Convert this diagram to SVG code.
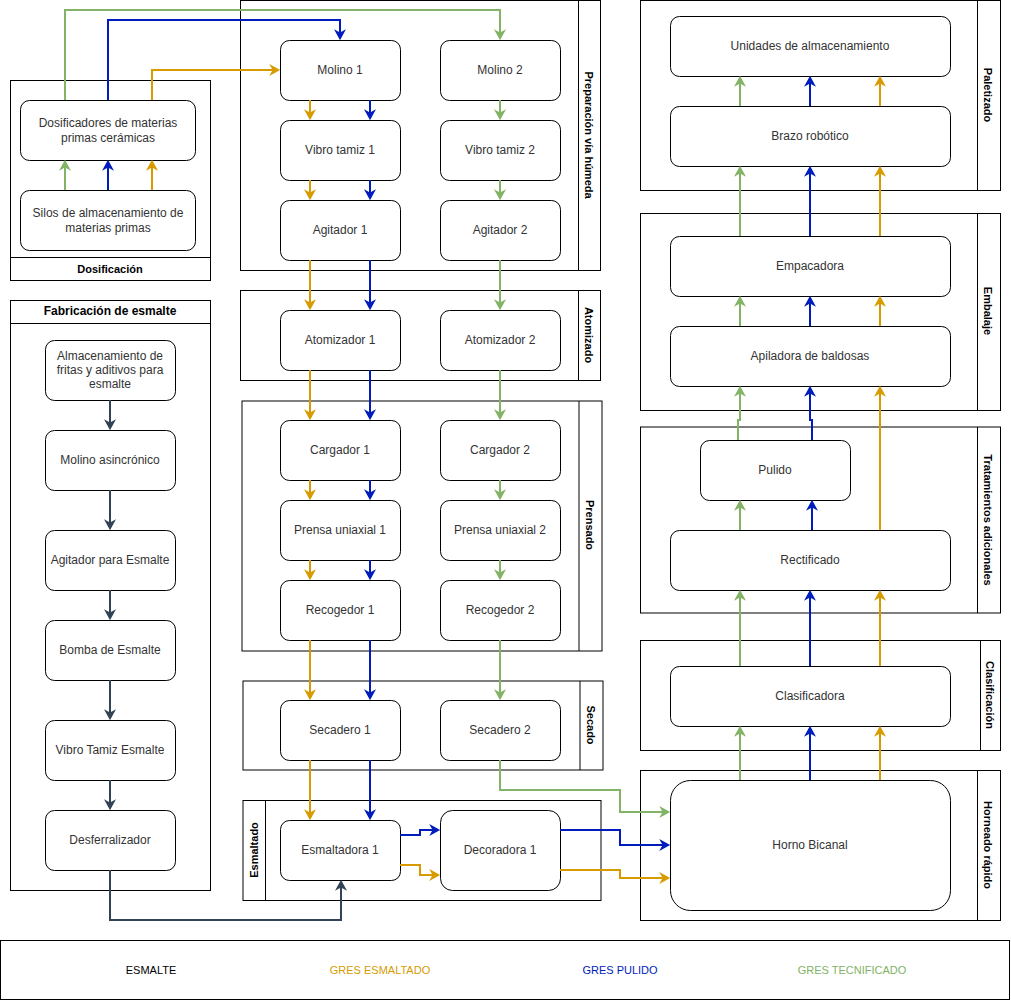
<svg xmlns="http://www.w3.org/2000/svg" width="1011" height="1001" viewBox="0 0 1011 1001">
<style>
.cont{fill:#fff;stroke:#000;stroke-width:1}
.node{fill:#fff;stroke:#000;stroke-width:1}
.t{font-family:"Liberation Sans",Arial,sans-serif;font-size:12px;fill:#333;text-anchor:middle;dominant-baseline:central}
.h{font-family:"Liberation Sans",Arial,sans-serif;font-size:11px;font-weight:bold;fill:#000;text-anchor:middle;dominant-baseline:central}
.lg{font-family:"Liberation Sans",Arial,sans-serif;font-size:11px;text-anchor:middle;dominant-baseline:central}
.c{fill:none;stroke-width:2}
.o{stroke:#d79b00;marker-end:url(#ao)}
.b{stroke:#001DBC;marker-end:url(#ab)}
.g{stroke:#82b366;marker-end:url(#ag)}
.d{stroke:#314354;marker-end:url(#ad)}
</style>
<defs>
<marker id="ao" markerUnits="userSpaceOnUse" markerWidth="12" markerHeight="12" viewBox="0 0 10 11" refX="8" refY="5.5" orient="auto"><path d="M0,0 L10,5.5 L0,11 L3,5.5 Z" fill="#d79b00"/></marker>
<marker id="ab" markerUnits="userSpaceOnUse" markerWidth="12" markerHeight="12" viewBox="0 0 10 11" refX="8" refY="5.5" orient="auto"><path d="M0,0 L10,5.5 L0,11 L3,5.5 Z" fill="#001DBC"/></marker>
<marker id="ag" markerUnits="userSpaceOnUse" markerWidth="12" markerHeight="12" viewBox="0 0 10 11" refX="8" refY="5.5" orient="auto"><path d="M0,0 L10,5.5 L0,11 L3,5.5 Z" fill="#82b366"/></marker>
<marker id="ad" markerUnits="userSpaceOnUse" markerWidth="12" markerHeight="12" viewBox="0 0 10 11" refX="8" refY="5.5" orient="auto"><path d="M0,0 L10,5.5 L0,11 L3,5.5 Z" fill="#314354"/></marker>
</defs>
<rect width="1011" height="1001" fill="#fff"/>

<!-- Containers -->
<g id="c-dosificacion"><rect class="cont" x="10.5" y="80.5" width="200" height="200"/><line x1="10.5" y1="257.5" x2="210.5" y2="257.5" stroke="#000"/><text class="h" x="110" y="269">Dosificación</text></g>
<g id="c-fabricacion"><rect class="cont" x="10.5" y="300.5" width="200" height="590"/><line x1="10.5" y1="323.5" x2="210.5" y2="323.5" stroke="#000"/><text class="h" x="110" y="311" style="font-size:12px">Fabricación de esmalte</text></g>
<g id="c-preparacion"><rect class="cont" x="240.5" y="0.5" width="360" height="270"/><line x1="578.5" y1="0.5" x2="578.5" y2="270.5" stroke="#000"/><text class="h" transform="translate(589,135) rotate(90)">Preparación vía húmeda</text></g>
<g id="c-atomizado"><rect class="cont" x="240.5" y="290.5" width="360" height="90"/><line x1="578.5" y1="290.5" x2="578.5" y2="380.5" stroke="#000"/><text class="h" transform="translate(589,335) rotate(90)">Atomizado</text></g>
<g id="c-prensado"><rect class="cont" x="242" y="401" width="360" height="250"/><line x1="579" y1="401" x2="579" y2="651" stroke="#000"/><text class="h" transform="translate(590,525) rotate(90)">Prensado</text></g>
<g id="c-secado"><rect class="cont" x="243" y="681" width="360" height="89"/><line x1="580" y1="681" x2="580" y2="770" stroke="#000"/><text class="h" transform="translate(591,725) rotate(90)">Secado</text></g>
<g id="c-esmaltado"><rect class="cont" x="243" y="800.5" width="358" height="100"/><line x1="265.5" y1="800.5" x2="265.5" y2="900.5" stroke="#000"/><text class="h" transform="translate(254,850) rotate(-90)">Esmaltado</text></g>
<g id="c-paletizado"><rect class="cont" x="640.5" y="0.5" width="360" height="190"/><line x1="977.5" y1="0.5" x2="977.5" y2="190.5" stroke="#000"/><text class="h" transform="translate(988,95) rotate(90)">Paletizado</text></g>
<g id="c-embalaje"><rect class="cont" x="640.5" y="213.5" width="360" height="197"/><line x1="977.5" y1="213.5" x2="977.5" y2="410.5" stroke="#000"/><text class="h" transform="translate(988,311) rotate(90)">Embalaje</text></g>
<g id="c-tratamientos"><rect class="cont" x="640.5" y="427" width="360" height="186"/><line x1="977.5" y1="427" x2="977.5" y2="613" stroke="#000"/><text class="h" transform="translate(988,520) rotate(90)">Tratamientos adicionales</text></g>
<g id="c-clasificacion"><rect class="cont" x="640.5" y="640.5" width="360" height="110"/><line x1="980.5" y1="640.5" x2="980.5" y2="750.5" stroke="#000"/><text class="h" transform="translate(990,695) rotate(90)">Clasificación</text></g>
<g id="c-horneado"><rect class="cont" x="640.5" y="770.5" width="360" height="150"/><line x1="977.5" y1="770.5" x2="977.5" y2="920.5" stroke="#000"/><text class="h" transform="translate(988,845) rotate(90)">Horneado rápido</text></g>

<!-- Nodes -->
<g id="n-dosificadores"><rect class="node" x="20.5" y="100.5" width="175" height="60" rx="9"/><text class="t" x="108" y="123">Dosificadores de materias</text><text class="t" x="108" y="138">primas cerámicas</text></g>
<g id="n-silos"><rect class="node" x="20.5" y="190.5" width="175" height="60" rx="9"/><text class="t" x="108" y="213">Silos de almacenamiento de</text><text class="t" x="108" y="228">materias primas</text></g>

<g id="n-almacen"><rect class="node" x="45.5" y="340.5" width="130" height="60" rx="9"/><text class="t" x="110" y="356">Almacenamiento de</text><text class="t" x="110" y="370">fritas y aditivos para</text><text class="t" x="110" y="384">esmalte</text></g>
<g id="n-molinoasinc"><rect class="node" x="45.5" y="430.5" width="130" height="60" rx="9"/><text class="t" x="110" y="460">Molino asincrónico</text></g>
<g id="n-agitadoresm"><rect class="node" x="45.5" y="530.5" width="130" height="60" rx="9"/><text class="t" x="110" y="560">Agitador para Esmalte</text></g>
<g id="n-bomba"><rect class="node" x="45.5" y="620.5" width="130" height="60" rx="9"/><text class="t" x="110" y="650">Bomba de Esmalte</text></g>
<g id="n-vibroesm"><rect class="node" x="45.5" y="720.5" width="130" height="60" rx="9"/><text class="t" x="110" y="750">Vibro Tamiz Esmalte</text></g>
<g id="n-desferr"><rect class="node" x="45.5" y="810.5" width="130" height="60" rx="9"/><text class="t" x="110" y="840">Desferralizador</text></g>

<g id="n-molino1"><rect class="node" x="280.5" y="40.5" width="120" height="60" rx="9"/><text class="t" x="340" y="70">Molino 1</text></g>
<g id="n-molino2"><rect class="node" x="440.5" y="40.5" width="120" height="60" rx="9"/><text class="t" x="500" y="70">Molino 2</text></g>
<g id="n-vibro1"><rect class="node" x="280.5" y="120.5" width="120" height="60" rx="9"/><text class="t" x="340" y="150">Vibro tamiz 1</text></g>
<g id="n-vibro2"><rect class="node" x="440.5" y="120.5" width="120" height="60" rx="9"/><text class="t" x="500" y="150">Vibro tamiz 2</text></g>
<g id="n-agitador1"><rect class="node" x="280.5" y="200.5" width="120" height="60" rx="9"/><text class="t" x="340" y="230">Agitador 1</text></g>
<g id="n-agitador2"><rect class="node" x="440.5" y="200.5" width="120" height="60" rx="9"/><text class="t" x="500" y="230">Agitador 2</text></g>
<g id="n-atom1"><rect class="node" x="280.5" y="310.5" width="120" height="60" rx="9"/><text class="t" x="340" y="340">Atomizador 1</text></g>
<g id="n-atom2"><rect class="node" x="440.5" y="310.5" width="120" height="60" rx="9"/><text class="t" x="500" y="340">Atomizador 2</text></g>
<g id="n-carg1"><rect class="node" x="280.5" y="420.5" width="120" height="60" rx="9"/><text class="t" x="340" y="450">Cargador 1</text></g>
<g id="n-carg2"><rect class="node" x="440.5" y="420.5" width="120" height="60" rx="9"/><text class="t" x="500" y="450">Cargador 2</text></g>
<g id="n-prensa1"><rect class="node" x="280.5" y="500.5" width="120" height="60" rx="9"/><text class="t" x="340" y="530">Prensa uniaxial 1</text></g>
<g id="n-prensa2"><rect class="node" x="440.5" y="500.5" width="120" height="60" rx="9"/><text class="t" x="500" y="530">Prensa uniaxial 2</text></g>
<g id="n-recog1"><rect class="node" x="280.5" y="580.5" width="120" height="60" rx="9"/><text class="t" x="340" y="610">Recogedor 1</text></g>
<g id="n-recog2"><rect class="node" x="440.5" y="580.5" width="120" height="60" rx="9"/><text class="t" x="500" y="610">Recogedor 2</text></g>
<g id="n-sec1"><rect class="node" x="280.5" y="700.5" width="120" height="60" rx="9"/><text class="t" x="340" y="730">Secadero 1</text></g>
<g id="n-sec2"><rect class="node" x="440.5" y="700.5" width="120" height="60" rx="9"/><text class="t" x="500" y="730">Secadero 2</text></g>
<g id="n-esmaltadora"><rect class="node" x="280.5" y="820.5" width="120" height="60" rx="9"/><text class="t" x="340" y="850">Esmaltadora 1</text></g>
<g id="n-decoradora"><rect class="node" x="440.5" y="810.5" width="120" height="80" rx="12"/><text class="t" x="500" y="850">Decoradora 1</text></g>

<g id="n-unidades"><rect class="node" x="670.5" y="16.5" width="280" height="60" rx="9"/><text class="t" x="810" y="46">Unidades de almacenamiento</text></g>
<g id="n-brazo"><rect class="node" x="670.5" y="106.5" width="280" height="60" rx="9"/><text class="t" x="810" y="136">Brazo robótico</text></g>
<g id="n-empacadora"><rect class="node" x="670.5" y="236.5" width="280" height="60" rx="9"/><text class="t" x="810" y="266">Empacadora</text></g>
<g id="n-apiladora"><rect class="node" x="670.5" y="326.5" width="280" height="60" rx="9"/><text class="t" x="810" y="356">Apiladora de baldosas</text></g>
<g id="n-pulido"><rect class="node" x="700.5" y="440.5" width="150" height="60" rx="9"/><text class="t" x="775" y="470">Pulido</text></g>
<g id="n-rectificado"><rect class="node" x="670.5" y="530.5" width="280" height="60" rx="9"/><text class="t" x="810" y="560">Rectificado</text></g>
<g id="n-clasificadora"><rect class="node" x="670.5" y="666.5" width="280" height="60" rx="9"/><text class="t" x="810" y="696">Clasificadora</text></g>
<g id="n-horno"><rect class="node" x="670.5" y="780.5" width="280" height="130" rx="20"/><text class="t" x="810" y="845">Horno Bicanal</text></g>

<!-- Connectors -->
<g id="connectors">
<path class="c g" d="M65,190 V162"/>
<path class="c b" d="M108,190 V162"/>
<path class="c o" d="M152,190 V162"/>
<path class="c g" d="M65,100 V10 H500 V38"/>
<path class="c b" d="M108,100 V20 H340 V38"/>
<path class="c o" d="M152,100 V70 H278"/>

<path class="c o" d="M310,100 V118"/>
<path class="c b" d="M370,100 V118"/>
<path class="c g" d="M500,100 V118"/>
<path class="c o" d="M310,180 V198"/>
<path class="c b" d="M370,180 V198"/>
<path class="c g" d="M500,180 V198"/>
<path class="c o" d="M310,260 V308"/>
<path class="c b" d="M370,260 V308"/>
<path class="c g" d="M500,260 V308"/>
<path class="c o" d="M310,370 V418"/>
<path class="c b" d="M370,370 V418"/>
<path class="c g" d="M500,370 V418"/>
<path class="c o" d="M310,480 V498"/>
<path class="c b" d="M370,480 V498"/>
<path class="c g" d="M500,480 V498"/>
<path class="c o" d="M310,560 V578"/>
<path class="c b" d="M370,560 V578"/>
<path class="c g" d="M500,560 V578"/>
<path class="c o" d="M310,640 V698"/>
<path class="c b" d="M370,640 V698"/>
<path class="c g" d="M500,640 V698"/>
<path class="c o" d="M310,760 V818"/>
<path class="c b" d="M370,760 V818"/>
<path class="c g" d="M500,760 V790 H620 V812 H668"/>
<path class="c b" d="M400,835 H420 V830 H438"/>
<path class="c o" d="M400,865 H420 V875 H438"/>
<path class="c b" d="M560,830 H620 V845 H668"/>
<path class="c o" d="M560,870 H620 V878 H668"/>

<path class="c d" d="M110,400 V428"/>
<path class="c d" d="M110,490 V528"/>
<path class="c d" d="M110,590 V618"/>
<path class="c d" d="M110,680 V718"/>
<path class="c d" d="M110,780 V808"/>
<path class="c d" d="M110,870 V920 H341 V882"/>

<path class="c g" d="M740,780 V728"/>
<path class="c b" d="M810,780 V728"/>
<path class="c o" d="M880,780 V728"/>
<path class="c g" d="M740,666 V592"/>
<path class="c b" d="M810,666 V592"/>
<path class="c o" d="M880,666 V592"/>
<path class="c g" d="M740,530 V502"/>
<path class="c b" d="M812,530 V502"/>
<path class="c o" d="M880,530 V388"/>
<path class="c g" d="M738,440 V420 H740 V388"/>
<path class="c b" d="M812,440 V420 H810 V388"/>
<path class="c g" d="M740,326 V298"/>
<path class="c b" d="M810,326 V298"/>
<path class="c o" d="M880,326 V298"/>
<path class="c g" d="M740,236 V168"/>
<path class="c b" d="M810,236 V168"/>
<path class="c o" d="M880,236 V168"/>
<path class="c g" d="M740,106 V78"/>
<path class="c b" d="M810,106 V78"/>
<path class="c o" d="M880,106 V78"/>
</g>

<!-- Legend -->
<g id="legend">
<rect class="cont" x="0.5" y="940.5" width="1009" height="59"/>
<text class="lg" x="151" y="970" fill="#000">ESMALTE</text>
<text class="lg" x="380" y="970" fill="#d79b00">GRES ESMALTADO</text>
<text class="lg" x="620" y="970" fill="#001DBC">GRES PULIDO</text>
<text class="lg" x="852" y="970" fill="#82b366">GRES TECNIFICADO</text>
</g>
</svg>
